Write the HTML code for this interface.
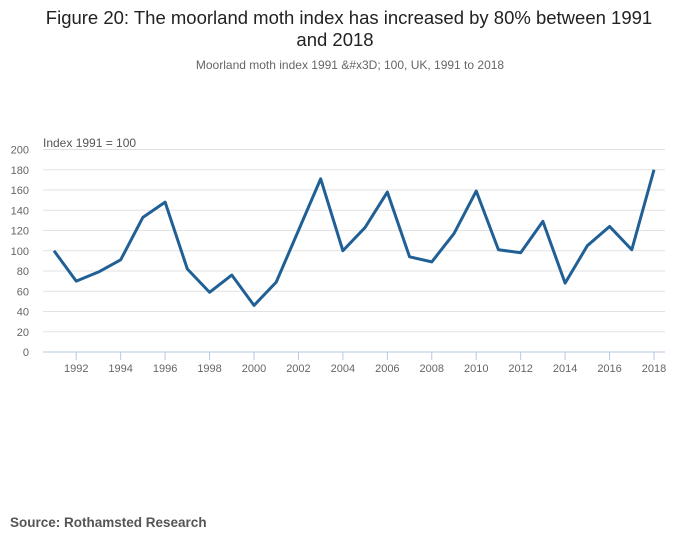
<!DOCTYPE html>
<html><head><meta charset="utf-8"><style>
body{margin:0;background:#fff;width:700px;height:549px;overflow:hidden;font-family:"Liberation Sans",sans-serif}
</style></head><body>
<svg width="700" height="549">
<text x="349" y="24" text-anchor="middle" font-size="18.5" fill="#222">Figure 20: The moorland moth index has increased by 80% between 1991</text>
<text x="335" y="46" text-anchor="middle" font-size="18.5" fill="#222">and 2018</text>
<text x="350" y="69" text-anchor="middle" font-size="12" fill="#666">Moorland moth index 1991 &amp;#x3D; 100, UK, 1991 to 2018</text>
<text x="43" y="147" font-size="12" fill="#555">Index 1991 = 100</text>
<g id="grid"></g><g id="xax"></g>
<path id="line" fill="none" stroke="#206095" stroke-width="3" stroke-linejoin="round"/>
<text x="10" y="527" font-size="13.5" font-weight="bold" fill="#555">Source: Rothamsted Research</text>
</svg>
<script>
const years=[1991,1992,1993,1994,1995,1996,1997,1998,1999,2000,2001,2002,2003,2004,2005,2006,2007,2008,2009,2010,2011,2012,2013,2014,2015,2016,2017,2018];
const values=[100,70,79,91,133,148,82,59,76,46,69,120,171,100,123,158,94,89,117,159,101,98,129,68,105,124,101,180];
const yTicks=[0,20,40,60,80,100,120,140,160,180,200];
const xTicks=[1992,1994,1996,1998,2000,2002,2004,2006,2008,2010,2012,2014,2016,2018];
const ns="http://www.w3.org/2000/svg";
const x=y=>54+(y-1991)*(654-54)/27;
const y=v=>352-v*(352-149.5)/200;
function mk(t,a,p){const e=document.createElementNS(ns,t);for(const k in a)e.setAttribute(k,a[k]);p.appendChild(e);return e;}
const g=document.getElementById('grid');
yTicks.forEach(v=>{
 const l=mk('line',{x1:43,x2:665,y1:y(v),y2:y(v),stroke:v?'#e2e2e2':'#b7c7e0','stroke-width':1},g);
 
 
 const t=mk('text',{x:29,y:y(v)+4,'font-size':11,fill:'#666','text-anchor':'end'},g);t.textContent=v;
 
 
});
const xa=document.getElementById('xax');
xTicks.forEach(v=>{
 const l=mk('line',{x1:x(v),x2:x(v),y1:352,y2:360,stroke:'#b7c7e0'},xa);
 
 
 const t=mk('text',{x:x(v),y:372,'font-size':11,fill:'#666','text-anchor':'middle'},xa);t.textContent=v;
 
 
});
document.getElementById('line').setAttribute('d',values.map((v,i)=>(i?'L':'M')+x(years[i])+','+y(v)).join(''));
</script>
</body></html>
